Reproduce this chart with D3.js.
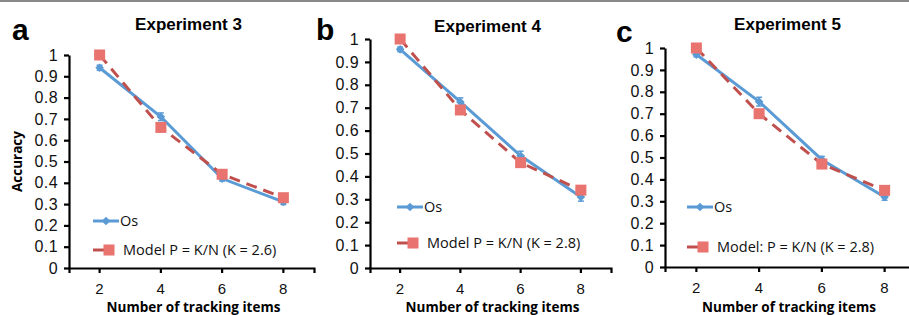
<!DOCTYPE html>
<html>
<head>
<meta charset="utf-8">
<script src="https://cdn.jsdelivr.net/npm/d3@7"></script>
<style>
  body { margin: 0; background: #fff; }
  svg { display: block; font-family: "Open Sans", sans-serif; }
  .tick text { font-size: 16px; fill: #111; letter-spacing: 0.4px; }
  .axis-x .tick text { font-size: 15px; }
  .axis path, .axis line { stroke: #000; stroke-width: 2.2px; }
  .title { font-family: "Liberation Sans", Arial, sans-serif; font-weight: bold; font-size: 17px; }
  .letter { font-family: "Liberation Sans", Arial, sans-serif; font-weight: bold; font-size: 30px; }
  .axis-title { font-weight: bold; font-size: 13.5px; }
  .legend text { font-size: 14.5px; fill: #111; }
</style>
</head>
<body>
<div id="chart"></div>
<script>
const categories = [2, 4, 6, 8];
const yTicks = [0, 0.1, 0.2, 0.3, 0.4, 0.5, 0.6, 0.7, 0.8, 0.9, 1];

const panelLetters = ['a', 'b', 'c'];
const titles = ['Experiment 3', 'Experiment 4', 'Experiment 5'];

// observer accuracy (Os) per experiment
const osValues = [
  [0.94, 0.71, 0.42, 0.31],
  [0.955, 0.725, 0.49, 0.31],
  [0.97, 0.755, 0.49, 0.32]
];
const osErrors = [
  [0.012, 0.018, 0.012, 0.012],
  [0.010, 0.018, 0.020, 0.018],
  [0.010, 0.020, 0.015, 0.015]
];
// model P = K/N
const modelValues = [
  [1.0, 0.66, 0.44, 0.33],
  [1.0, 0.69, 0.46, 0.34],
  [1.0, 0.70, 0.47, 0.35]
];
const modelLabels = [
  'Model P = K/N (K = 2.6)',
  'Model P = K/N (K = 2.8)',
  'Model: P = K/N (K = 2.8)'
];

const width = 909, height = 315;
const blue = '#5b9bd5', red = '#c0504d', redFill = '#e8736f';

// panel frames (plot area, legend anchors)
const panels = [
  {left: 69, right: 314, top: 55, bottom: 268, titleY: 30, letterX: 12, letterY: 40, legX: 93, legY1: 221, legY2: 250},
  {left: 370, right: 611, top: 39, bottom: 268, titleY: 32, letterX: 316, letterY: 40, legX: 397, legY1: 207, legY2: 243},
  {left: 665, right: 916, top: 48, bottom: 267, titleY: 30, letterX: 616, letterY: 42, legX: 687, legY1: 207, legY2: 247}
];

const svg = d3.select('#chart').append('svg')
    .attr('width', width)
    .attr('height', height);

svg.append('line')
    .attr('x1', 0).attr('x2', width)
    .attr('y1', 1).attr('y2', 1)
    .attr('stroke', '#888')
    .attr('stroke-width', 2);

panels.forEach((p, i) => {
  const x = d3.scaleBand()
      .domain(categories)
      .range([p.left, p.right]);
  const y = d3.scaleLinear()
      .domain([0, 1])
      .range([p.bottom, p.top]);
  const cx = d => x(d) + x.bandwidth() / 2;

  const g = svg.append('g');

  // axes
  g.append('g')
      .attr('class', 'axis axis-y')
      .attr('transform', `translate(${p.left},0)`)
      .call(d3.axisLeft(y)
          .tickValues(yTicks)
          .tickSize(5)
          .tickSizeOuter(0)
          .tickPadding(6)
          .tickFormat(d => d3.format('')(+d.toFixed(1))));

  g.append('g')
      .attr('class', 'axis axis-x')
      .attr('transform', `translate(0,${p.bottom})`)
      .call(d3.axisBottom(x)
          .tickSize(5)
          .tickSizeOuter(5)
          .tickPadding(10));

  // titles
  g.append('text')
      .attr('class', 'title')
      .attr('x', (p.left + p.right) / 2 - 3)
      .attr('y', p.titleY)
      .attr('text-anchor', 'middle')
      .text(titles[i]);
  g.append('text')
      .attr('class', 'letter')
      .attr('x', p.letterX)
      .attr('y', p.letterY)
      .text(panelLetters[i]);
  g.append('text')
      .attr('class', 'axis-title')
      .attr('x', (p.left + Math.min(p.right, width)) / 2 + 2)
      .attr('y', 311.5)
      .attr('text-anchor', 'middle')
      .text('Number of tracking items');
  if (i === 0) {
    g.append('text')
        .attr('class', 'axis-title')
        .attr('transform', `translate(22,${(p.top + p.bottom) / 2}) rotate(-90)`)
        .attr('text-anchor', 'middle')
        .text('Accuracy');
  }

  const line = d3.line()
      .x((d, j) => cx(categories[j]))
      .y(d => y(d));

  // Os series
  const os = g.append('g');
  os.append('path')
      .datum(osValues[i])
      .attr('d', line)
      .attr('fill', 'none')
      .attr('stroke', blue)
      .attr('stroke-width', 3);
  os.selectAll('g.err')
    .data(osValues[i])
    .enter().append('g')
      .attr('class', 'err')
      .each(function(d, j) {
        const e = osErrors[i][j], xx = cx(categories[j]);
        const s = d3.select(this);
        s.append('line')
            .attr('x1', xx).attr('x2', xx)
            .attr('y1', y(d - e)).attr('y2', y(d + e));
        [d - e, d + e].forEach(v => s.append('line')
            .attr('x1', xx - 3).attr('x2', xx + 3)
            .attr('y1', y(v)).attr('y2', y(v)));
      })
      .selectAll('line')
        .attr('stroke', blue)
        .attr('stroke-width', 1.5);
  os.selectAll('path.diamond')
    .data(osValues[i])
    .enter().append('path')
      .attr('class', 'diamond')
      .attr('d', d3.symbol(d3.symbolDiamond2, 48))
      .attr('transform', (d, j) => `translate(${cx(categories[j])},${y(d)})`)
      .attr('fill', blue);

  // Model series
  const model = g.append('g');
  model.append('path')
      .datum(modelValues[i])
      .attr('d', line)
      .attr('fill', 'none')
      .attr('stroke', red)
      .attr('stroke-width', 3)
      .attr('stroke-dasharray', '11,7');
  model.selectAll('rect')
    .data(modelValues[i])
    .enter().append('rect')
      .attr('x', (d, j) => cx(categories[j]) - 5.5)
      .attr('y', d => y(d) - 5.5)
      .attr('width', 11)
      .attr('height', 11)
      .attr('fill', redFill);

  // legend
  const leg = g.append('g').attr('class', 'legend');
  leg.append('line')
      .attr('x1', p.legX).attr('x2', p.legX + 26)
      .attr('y1', p.legY1).attr('y2', p.legY1)
      .attr('stroke', blue).attr('stroke-width', 3);
  leg.append('path')
      .attr('d', d3.symbol(d3.symbolDiamond2, 48))
      .attr('transform', `translate(${p.legX + 13},${p.legY1})`)
      .attr('fill', blue);
  leg.append('text')
      .attr('x', p.legX + 27)
      .attr('y', p.legY1)
      .attr('dy', '0.35em')
      .text('Os');
  leg.append('line')
      .attr('x1', p.legX).attr('x2', p.legX + 20)
      .attr('y1', p.legY2).attr('y2', p.legY2)
      .attr('stroke', red).attr('stroke-width', 3);
  leg.append('rect')
      .attr('x', p.legX + 10.5).attr('y', p.legY2 - 5.5)
      .attr('width', 11).attr('height', 11)
      .attr('fill', redFill);
  leg.append('text')
      .attr('x', p.legX + 30)
      .attr('y', p.legY2)
      .attr('dy', '0.35em')
      .text(modelLabels[i]);
});
</script>
</body>
</html>
